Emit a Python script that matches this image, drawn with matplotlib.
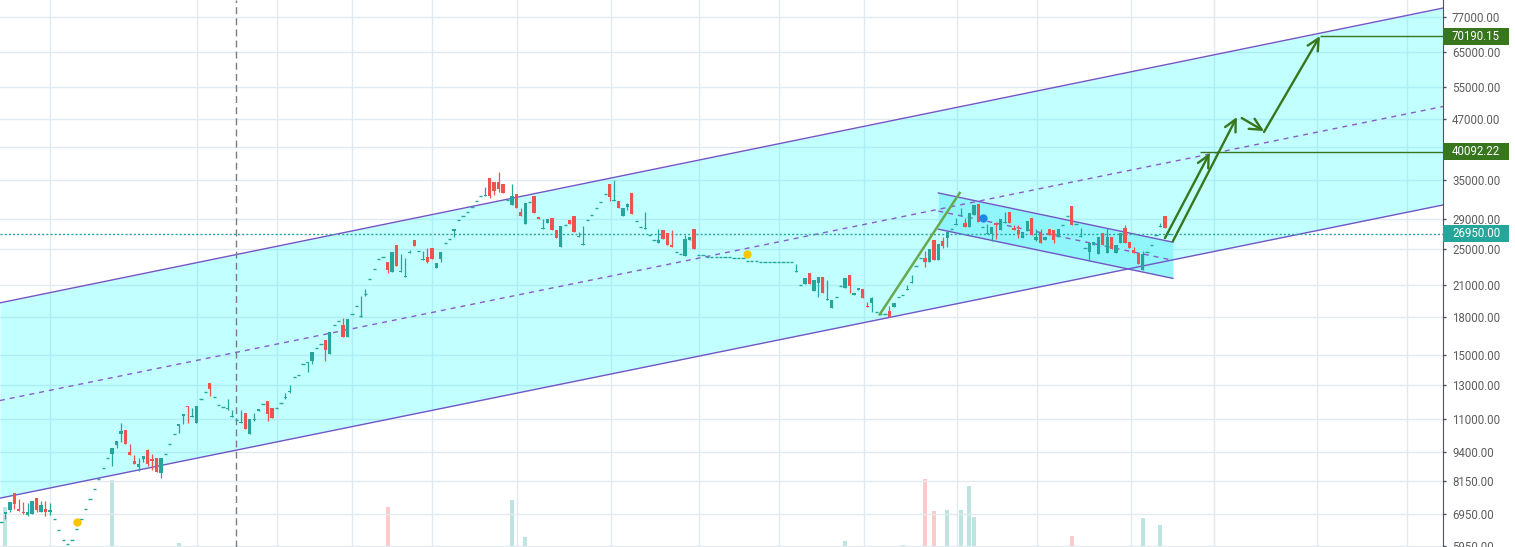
import numpy as np
import matplotlib
matplotlib.use('Agg')
import matplotlib.pyplot as plt
from matplotlib.ticker import NullLocator
from matplotlib.patches import Rectangle
from matplotlib.transforms import IdentityTransform

plt.rcParams['font.family'] = ['Roboto', 'DejaVu Sans']

# daily candles (one entry per day, day 0 = left edge)
opens = [6680, 6950, 7080, 7700, 7120, 7020, 6910, 6950, 7510, 7020,
         7120, 7020, 6780, 6420, 6120, 6000, 6120, 6450, 6780, 7120,
         7470, 7850, 8230, 8690, 9110, 9290, 9710, 10240, 10440, 9380,
         8980, 8720, 9070, 9480, 9070, 9110, 8480, 9290, 9760, 10240,
         10650, 11180, 11730, 11130, 10810, 12140, 12560, 13120, 12260, 11790,
         11680, 11560, 11130, 10970, 10810, 11340, 10240, 10960, 11450, 11850,
         12020, 11620, 11620, 11900, 12200, 12560, 13510, 13640, 14390, 14460,
         14600, 15550, 15780, 16090, 15100, 17380, 17640, 17380, 16400, 18250,
         18980, 18000, 20020, 21640, 22710, 23840, 24070, 23490, 22380, 25510,
         22380, 21850, 24540, 26140, 24780, 23720, 24070, 25150, 22830, 23840,
         25760, 26270, 27300, 28800, 29360, 29940, 30680, 31590, 32360, 32360,
         35320, 34640, 34640, 34300, 31740, 30980, 32680, 29940, 28240, 31430,
         32360, 29220, 27570, 28380, 29080, 27440, 25270, 28110, 28800, 29360,
         26520, 25510, 28800, 29510, 30530, 31430, 32680, 34300, 31590, 31590,
         29360, 30680, 32830, 28660, 27840, 27570, 26780, 26140, 25760, 27440,
         27040, 25510, 24660, 24420, 24180, 26140, 27570, 24300, 24300, 24070,
         24070, 24070, 24070, 24070, 24070, 23950, 23950, 23950, 23610, 23610,
         23610, 23490, 23490, 23490, 23490, 23490, 23490, 23490, 23490, 22380,
         21010, 21110, 22280, 20410, 21220, 21850, 19540, 18790, 19830, 20910,
         20710, 22060, 20020, 20510, 20610, 18980, 19250, 18430, 18250, 18250,
         18520, 18890, 19830, 20020, 20510, 21220, 23040, 23950, 23950, 23490,
         26140, 23720, 26020, 26400, 27570, 28110, 29360, 28380, 27840, 29510,
         31130, 27840, 26920, 26920, 28380, 27440, 28380, 29940, 27710, 27440,
         26400, 27300, 29080, 26140, 27040, 26140, 27570, 27440, 26520, 28110,
         29360, 30830, 28240, 26520, 25150, 24660, 25510, 24420, 27040, 24540,
         26520, 24540, 25760, 27710, 25890, 24900, 24540, 22600, 24660, 25510,
         26780, 27840, 29360, 26950]

highs = [6680, 7020, 7360, 7700, 7470, 7360, 7330, 7400, 7510, 7400,
         7400, 7330, 6780, 6420, 6120, 6000, 6120, 6450, 6780, 7120,
         7470, 7850, 8230, 8690, 9110, 9570, 9900, 10810, 10440, 9760,
         9250, 9110, 9200, 9520, 9290, 9110, 9110, 9290, 9760, 10240,
         10760, 11290, 11730, 11620, 11730, 12140, 12560, 13120, 12260, 11790,
         11680, 12140, 11510, 10970, 11510, 11340, 11020, 11340, 11560, 11850,
         12020, 11620, 11620, 11900, 12500, 12990, 13510, 13640, 14390, 14530,
         15250, 15550, 15780, 16090, 16730, 17380, 17640, 17900, 17810, 18250,
         18980, 19920, 20610, 21640, 22710, 23840, 24070, 23490, 24660, 25510,
         24420, 23950, 24900, 26140, 24780, 24780, 25150, 25150, 23380, 24660,
         25760, 26270, 27570, 28800, 29360, 29940, 30680, 31590, 32360, 33810,
         35320, 34640, 36440, 34300, 31740, 34300, 32680, 30530, 31280, 31430,
         32360, 29220, 28940, 28940, 29080, 27440, 27970, 28110, 28800, 29360,
         27170, 27970, 28800, 29510, 30530, 31430, 32680, 34300, 34980, 31590,
         30530, 31280, 32830, 28660, 27840, 29940, 26780, 26140, 27570, 27440,
         27040, 27440, 24660, 24420, 26780, 26520, 27570, 24300, 24300, 24070,
         24070, 24070, 24070, 24070, 24070, 23950, 23950, 23950, 23610, 23610,
         23610, 23490, 23490, 23490, 23490, 23490, 23490, 23490, 23490, 23270,
         21010, 21750, 22280, 21530, 21850, 21850, 21530, 19540, 19830, 20910,
         21750, 22060, 20210, 20710, 20610, 19350, 19830, 18430, 18250, 18250,
         18980, 19250, 19830, 20020, 21010, 22060, 23040, 23950, 24780, 25020,
         26140, 25630, 26520, 27170, 27570, 29080, 30530, 29080, 29800, 30980,
         31130, 27840, 28240, 27840, 28520, 28940, 29940, 29940, 28110, 28110,
         27170, 28660, 29080, 27570, 27570, 26520, 27570, 27440, 27570, 28110,
         29360, 30830, 28240, 27710, 25150, 25760, 25890, 26520, 27040, 27710,
         26520, 25510, 27040, 28110, 25890, 25270, 24540, 24780, 24660, 25510,
         26780, 28380, 29360, 26950]

lows = [6680, 6780, 7020, 7120, 7050, 6950, 6880, 6950, 7020, 7020,
        6880, 6910, 6780, 6420, 6120, 6000, 6120, 6450, 6780, 7120,
        7470, 7850, 8230, 8690, 9110, 8770, 9570, 9850, 9760, 9250,
        8850, 8560, 8940, 8770, 8600, 8520, 8270, 9290, 9760, 10240,
        10290, 10760, 10810, 11130, 10810, 12140, 12560, 12320, 12260, 11790,
        11680, 11510, 11130, 10970, 10810, 10490, 10240, 10910, 11450, 11850,
        10910, 11070, 11620, 11900, 12140, 12500, 13510, 13640, 14390, 13840,
        14390, 15550, 15780, 14600, 15100, 17380, 17640, 16400, 16400, 18250,
        18980, 18000, 19920, 21640, 22710, 23840, 24070, 22280, 22380, 23040,
        22380, 21850, 24540, 25390, 24780, 23720, 23380, 23840, 22830, 23490,
        25760, 26270, 26520, 28800, 29360, 29940, 30680, 31590, 32360, 32360,
        32050, 32520, 32990, 32830, 31740, 30980, 30530, 29360, 28240, 31430,
        29800, 28940, 27570, 28380, 27440, 26400, 25270, 28110, 28240, 27170,
        26520, 25510, 28800, 29510, 30530, 31430, 32680, 31590, 31590, 30530,
        29360, 30240, 29650, 28660, 27840, 27570, 26780, 26140, 25760, 26270,
        25510, 25270, 24660, 24420, 24180, 26140, 25020, 24300, 24300, 24070,
        24070, 24070, 24070, 24070, 24070, 23950, 23950, 23950, 23610, 23610,
        23610, 23490, 23490, 23490, 23490, 23490, 23490, 23490, 23490, 22380,
        21010, 21110, 21110, 20410, 19830, 20210, 19540, 18790, 19830, 20910,
        20710, 20210, 20020, 20510, 19740, 18890, 18430, 18430, 18250, 18250,
        17990, 18890, 19830, 20020, 20510, 21220, 23040, 23950, 22940, 23490,
        23720, 23720, 25150, 25270, 27570, 28110, 29360, 27840, 27840, 29510,
        28520, 27840, 26920, 26020, 26270, 27440, 28380, 28380, 27440, 26400,
        26400, 27300, 26780, 26020, 25760, 26140, 26780, 25760, 26520, 28110,
        29360, 28110, 28240, 26520, 25150, 23720, 25510, 24420, 25510, 24540,
        25020, 24540, 25760, 25760, 25150, 24540, 23270, 22600, 24660, 25510,
        26780, 27840, 27710, 26950]

closes = [6680, 7020, 7360, 7290, 7050, 6990, 7020, 7400, 7080, 7260,
          7020, 7080, 6780, 6420, 6120, 6000, 6120, 6450, 6780, 7120,
          7470, 7850, 8230, 8690, 9110, 9570, 9900, 10390, 9760, 9250,
          8850, 8850, 9200, 8850, 8980, 8520, 9110, 9290, 9760, 10240,
          10760, 11290, 11680, 11180, 11730, 12140, 12560, 12740, 12260, 11790,
          11680, 11620, 11180, 10970, 10860, 10490, 11020, 11020, 11560, 11850,
          11290, 11070, 11620, 11900, 12260, 12620, 13510, 13640, 14390, 14530,
          15250, 15550, 15780, 15400, 16730, 17380, 17640, 16400, 17810, 18250,
          18980, 18070, 20100, 21640, 22710, 23840, 24070, 22600, 24660, 23040,
          22490, 21960, 24660, 25390, 24780, 23840, 23490, 23840, 23380, 24660,
          25760, 26270, 27570, 28800, 29360, 29940, 30680, 31590, 32360, 32520,
          32360, 33150, 33480, 32830, 31740, 32360, 30530, 29360, 31280, 31430,
          29800, 28940, 27710, 28940, 27440, 26400, 27970, 28110, 28240, 27170,
          26650, 25630, 28800, 29510, 30530, 31430, 32680, 32200, 31740, 30530,
          30530, 31130, 29650, 28660, 27840, 27710, 26780, 26140, 26140, 26270,
          25510, 25270, 24660, 24420, 26270, 26520, 25020, 24300, 24300, 24070,
          24070, 24070, 24070, 24070, 24070, 23950, 23950, 23950, 23610, 23610,
          23610, 23490, 23490, 23490, 23490, 23490, 23490, 23490, 23490, 22490,
          21010, 21750, 21110, 21530, 21850, 20210, 19640, 19540, 19830, 20910,
          21750, 20910, 20210, 20710, 19740, 18890, 19740, 18430, 18250, 18250,
          17990, 19250, 19830, 20020, 20610, 21320, 23040, 23950, 23490, 25020,
          23720, 25630, 25390, 27170, 27570, 28240, 29510, 27840, 29800, 30980,
          28520, 27840, 27040, 27840, 28110, 28940, 28520, 28380, 27440, 26920,
          27170, 28660, 26780, 26520, 25760, 26520, 26780, 26140, 27570, 28110,
          29360, 28110, 28240, 26650, 25150, 25760, 25890, 26520, 25510, 26520,
          25020, 25510, 27040, 25760, 25150, 24540, 23270, 24420, 24660, 25510,
          26780, 27970, 27710, 26950]

# volume (only the days with a visible bar)
vol_days = [1, 25, 40, 87, 115, 118, 190, 203, 208, 210, 213, 216, 218, 219, 241, 257, 261]
vol_vals = [40, 67, 4, 40, 47, 10, 6, 2, 68, 36, 37, 37, 61, 30, 11, 29, 22]

# drawings
chan_days = [-0.25, 324.6]
chan_upper = [19300, 80400]
chan_lower = [7500, 31000]
small_days = [211, 263.8]
small_upper = [32850, 25890]
small_lower = [27570, 21730]
trend_days = [197.8, 215.8]
trend_vals = [18250, 32850]
arrows = [((262.0, 26400), (272.1, 39870)),
          ((263.8, 26020), (278.2, 47450)),
          ((279.3, 47220), (284.3, 44340)),
          ((284.3, 44130), (296.9, 70190.15))]
targets = [(40092.22, 269.9), (70190.15, 296.9)]
last_price = 26950.0
vline_day = 53
yellow_dots = [(17, 6680), (168, 24420)]
blue_dot = (221, 29080)

price_ticks = [77000, 65000, 55000, 47000, 41000, 35000, 29000, 25000,
               21000, 18000, 15000, 13000, 11000, 9400, 8150, 6950, 5950]
hidden_ticks = [41000]
grid_days = [11, 44.1, 62.1, 79, 97, 116.1, 137.3, 157.1, 175.1, 194.2,
             215.2, 233.2, 254.3, 273, 296.2, 316.4]

GREEN = '#26a69a'
RED = '#ef5350'
PURPLE = '#7455c6'
DKGREEN = '#38761d'

o = np.array(opens, float)
h = np.array(highs, float)
l = np.array(lows, float)
c = np.array(closes, float)
days = np.arange(len(c))

fig = plt.figure(figsize=(15.15, 5.47), dpi=100)
ax = fig.add_axes([0, 0, 1443 / 1515, 1])
axv = ax.twinx()
ax.set_zorder(axv.get_zorder() + 1)
ax.patch.set_visible(False)

# volume underneath
vcol = [GREEN if c[d] >= o[d] else RED for d in vol_days]
axv.bar(vol_days, vol_vals, width=0.9, color=vcol, alpha=0.3, lw=0)
axv.set_ylim(0, 547)
axv.axis('off')

ax.set_yscale('log')
ax.set_ylim(5921, 83600)
ax.set_xlim(-0.23, 324.6)

ax.set_axisbelow(True)
ax.set_xticks(grid_days)
ax.set_yticks(price_ticks)
ax.set_yticklabels(['' if t in hidden_ticks else '%.2f' % t for t in price_ticks])
ax.yaxis.set_minor_locator(NullLocator())
ax.grid(True, color='#e2eaf1', lw=1)
ax.yaxis.tick_right()
ax.tick_params(axis='x', length=0, labelbottom=False)
ax.tick_params(axis='y', length=2.5, width=1, color='#50535e', labelcolor='#5d5d5d',
               labelsize=8.3, pad=4)
for s in ['left', 'top', 'bottom']:
    ax.spines[s].set_visible(False)
ax.spines['right'].set_color('#50535e')

# big channel
ax.fill_between(chan_days, chan_lower, chan_upper, color='#00ffff', alpha=0.24, lw=0, zorder=1)
ax.plot(chan_days, chan_upper, color=PURPLE, lw=1.0, zorder=2)
ax.plot(chan_days, chan_lower, color=PURPLE, lw=1.0, zorder=2)
ax.plot(chan_days, np.sqrt(np.array(chan_upper) * np.array(chan_lower)),
        color='#8a5cc8', lw=1.0, ls=(0, (3.6, 3.6)), zorder=2)

# small falling channel
ax.fill_between(small_days, small_lower, small_upper, color='#8cf6fb', alpha=0.9, lw=0, zorder=1.5)
ax.plot(small_days, small_upper, color=PURPLE, lw=1.0, zorder=2)
ax.plot(small_days, small_lower, color=PURPLE, lw=1.0, zorder=2)
ax.plot(small_days, np.sqrt(np.array(small_upper) * np.array(small_lower)),
        color='#8a5cc8', lw=1.0, ls=(0, (3.6, 3.6)), zorder=2)

ax.axvline(vline_day, color='#787b86', lw=1, ls=(0, (5, 3)), zorder=2)
ax.axhline(last_price, color=GREEN, lw=1, ls=(0, (1.5, 1.5)), zorder=2)

# candles
up = c >= o
col = np.where(up, GREEN, RED)
ax.vlines(days, l, h, colors=col, lw=0.9, zorder=4)
lo = np.minimum(o, c)
hi = np.maximum(o, c)
flat = hi / lo < 1.004
ax.bar(days[~flat], (hi - lo)[~flat], bottom=lo[~flat], width=0.74, color=col[~flat], lw=0, zorder=5)
ax.hlines(c[flat], days[flat] - 0.37, days[flat] + 0.37, colors=col[flat], lw=1, zorder=5)

for d, v in yellow_dots:
    ax.plot(d, v, 'o', ms=6, color='#f7c600', mec='none', zorder=6)
ax.plot(*blue_dot, 'o', ms=6, color='#1e88e5', mec='none', zorder=6)

# forecast drawings
ax.plot(trend_days, trend_vals, color='#6aa84f', lw=1.8, zorder=6)
for start, end in arrows:
    ax.annotate('', xy=end, xytext=start, zorder=7,
                arrowprops=dict(arrowstyle='->,head_length=0.7,head_width=0.35',
                                color=DKGREEN, lw=1.7, shrinkA=0, shrinkB=0,
                                mutation_scale=12))
for v, d0 in targets:
    ax.hlines(v, d0, 324.6, color=DKGREEN, lw=1, zorder=6)

# price boxes on the scale
boxes = [(targets[1][0], DKGREEN), (targets[0][0], DKGREEN), (last_price, GREEN)]
for v, fc in boxes:
    yp = ax.transData.transform((0, v))[1]
    fig.add_artist(Rectangle((1443, yp - 8.5), 66, 17, transform=IdentityTransform(),
                             facecolor=fc, edgecolor='none', zorder=10))
    fig.text(1452, yp, '%.2f' % v, transform=IdentityTransform(), color='white',
             fontsize=8.3, va='center', ha='left', zorder=11)

fig.savefig('out.png', dpi=100, facecolor='white')
